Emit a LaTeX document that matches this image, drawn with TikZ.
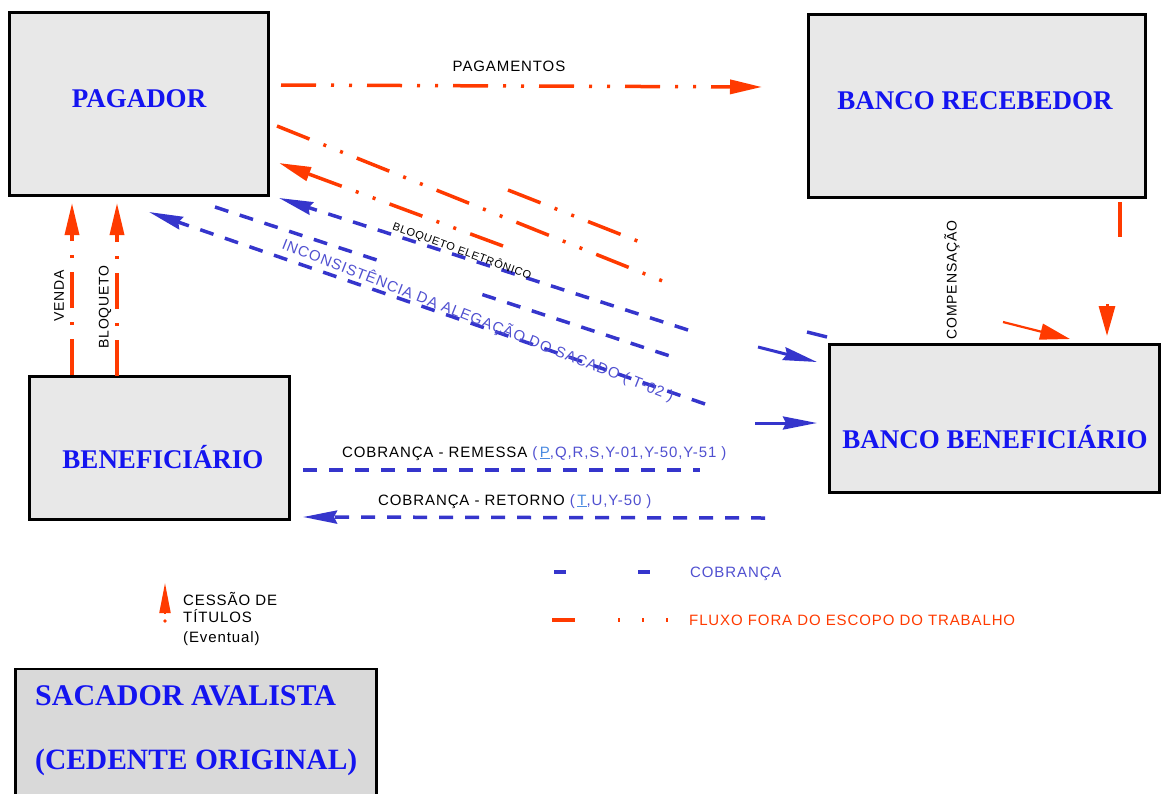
\documentclass[tikz,border=0pt]{standalone}
\usepackage{fontspec}
\setmainfont{Liberation Serif}
\newfontfamily\lsans[LetterSpace=6]{Liberation Sans}
\usetikzlibrary{arrows.meta,calc}
\definecolor{boxfill}{HTML}{E8E8E8}
\definecolor{sacfill}{HTML}{D9D9D9}
\definecolor{titleblue}{HTML}{1414F0}
\definecolor{lineblue}{HTML}{3535CC}
\definecolor{textblue}{HTML}{5050D0}
\definecolor{ulblue}{HTML}{4A8AE0}
\definecolor{flowred}{HTML}{FF3A00}
\tikzset{
  box/.style={draw=black, line width=3pt, fill=boxfill, inner sep=0pt},
  title/.style={text=titleblue, font=\fontsize{27}{30}\selectfont\bfseries, inner sep=0pt},
  small/.style={font=\lsans\fontsize{15}{17}\selectfont, inner sep=0pt},
  tiny/.style={font=\lsans\fontsize{14}{16}\selectfont, inner sep=0pt},
  redflow/.style={draw=flowred, line width=3.5pt, dash pattern=on 35pt off 15pt on 3pt off 15pt on 3pt off 15pt},
  redvert/.style={draw=flowred, line width=3.5pt, dash pattern=on 36pt off 14pt on 3pt off 14pt},
  bluflow/.style={draw=lineblue, line width=3.5pt, dash pattern=on 14pt off 12pt},
  redtip/.style={-{Triangle[length=32pt,width=14pt]}},
  blutip/.style={-{Stealth[length=34pt,width=13pt,inset=3pt]}},
}
\begin{document}
\begin{tikzpicture}[x=1pt,y=-1pt]
\useasboundingbox (0,0) rectangle (1162,793);

% boxes
\node[box, minimum width=259pt, minimum height=183pt] (pag) at (139,104) {};
\node[box, minimum width=337pt, minimum height=183pt] (rec) at (977,106) {};
\node[box, minimum width=330pt, minimum height=148pt] (bben) at (994.5,418.5) {};
\node[box, minimum width=260pt, minimum height=143pt] (ben) at (159.5,448) {};
\node[box, line width=2.5pt, fill=sacfill, minimum width=361pt, minimum height=150pt] (sac) at (196,744) {};

% box titles
\node[title, anchor=base] (tpag) at (139,107) {PAGADOR};
\node[title, anchor=base] (trec) at (975,109) {BANCO RECEBEDOR};
\node[title, anchor=base] (tben) at (163,468) {BENEFICIÁRIO};
\node[title, anchor=base] (tbben) at (995,448) {BANCO BENEFICIÁRIO};
\node[title, font=\fontsize{30}{32}\selectfont\bfseries, anchor=base west] (tsac1) at (35,705) {SACADOR AVALISTA};
\node[title, font=\fontsize{29.5}{32}\selectfont\bfseries, anchor=base west] (tsac2) at (35,769) {(CEDENTE ORIGINAL)};

% coordinates of free ends
\coordinate (pgA) at (281,85);  \coordinate (pgB) at (762,87);
\coordinate (rA1) at (277,126); \coordinate (rA2) at (665,282);
\coordinate (rB1) at (503,246); \coordinate (rB2) at (279,163);
\coordinate (rC1) at (508,190); \coordinate (rC2) at (640,242);
\coordinate (vA) at (72,203);   \coordinate (vB) at (117,203);
\coordinate (rr1) at (1120,202); \coordinate (rr2) at (1120,237);
\coordinate (rr3) at (1107,304); \coordinate (rr4) at (1107,336);
\coordinate (cp1) at (1003,322); \coordinate (cp2) at (1070,339);
\coordinate (ba1) at (688,330); \coordinate (ba2) at (279,198);
\coordinate (ba3) at (758,347); \coordinate (ba4) at (817,362);
\coordinate (bd1) at (807,332); \coordinate (bd2) at (827,337);
\coordinate (bb1) at (215,207); \coordinate (bb2) at (676,358);
\coordinate (bc1) at (705,404); \coordinate (bc2) at (149,212);
\coordinate (bc3) at (755,423); \coordinate (bc4) at (817,423);
\coordinate (rm1) at (303,470); \coordinate (rm2) at (700,470);
\coordinate (rt1) at (765,518); \coordinate (rt2) at (303,517);

% red flows
\draw[redflow, redtip] (pgA) -- (pgB);
\draw[redflow] (rA1) -- (rA2);
\draw[redflow, redtip] (rB1) -- (rB2);
\draw[redflow] (rC1) -- (rC2);
\draw[redvert, redtip] (ben.north -| vA) -- (vA);
\draw[redvert, redtip] ([yshift=-1pt]ben.north -| vB) -- (vB);
\draw[draw=flowred, line width=3.5pt] (rr1) -- (rr2);
\draw[draw=flowred, line width=3pt, -{Triangle[length=30pt,width=16pt]}] (rr3) -- (rr4);
\draw[draw=flowred, line width=2.2pt, -{Triangle[length=30pt,width=16pt]}] (cp1) -- (cp2);

% blue flows
\draw[bluflow, blutip] (ba1) -- (ba2);
\draw[draw=lineblue, line width=3pt, blutip] (ba3) -- (ba4);
\draw[draw=lineblue, line width=3.5pt] (bd1) -- (bd2);
\draw[bluflow] (bb1) -- ($(bb1)!0.36!(bb2)$);
\draw[bluflow] ($(bb1)!0.58!(bb2)$) -- (bb2);
\draw[bluflow, blutip] (bc1) -- (bc2);
\draw[draw=lineblue, line width=3pt, blutip] (bc3) -- (bc4);
\draw[bluflow] (rm1) -- (rm2);
\draw[bluflow, blutip] (rt1) -- (rt2);

% labels
\node[small, anchor=base] (lpag) at (509,71) {PAGAMENTOS};
\node[rotate=-20, inner sep=0pt, font=\lsans\fontsize{11}{12}\selectfont] (lblq) at (462,251) {BLOQUETO ELETRÔNICO};
\node[small, rotate=-21.4, text=textblue] (linc) at (478,320) {INCONSISTÊNCIA DA ALEGAÇÃO DO SACADO ( T-02 )};
\node[small, anchor=base west] (lrem) at (342,457) {COBRANÇA - REMESSA {\color{textblue}(\,}{\color{ulblue}\underline{P}}{\color{textblue},Q,R,S,Y-01,Y-50,Y-51 )}};
\node[small, anchor=base west] (lret) at (378,505) {COBRANÇA - RETORNO {\color{textblue}(\,}{\color{ulblue}\underline{T}}{\color{textblue},U,Y-50 )}};
\node[tiny, rotate=90] (lven) at (59,296) {VENDA};
\node[tiny, rotate=90] (lblo) at (105,307) {BLOQUETO};
\node[tiny, rotate=90] (lcom) at (952,280) {COMPENSAÇÃO};

% legend
\coordinate (lg1) at (554,572); \coordinate (lg2) at (650,572);
\draw[draw=lineblue, line width=4pt, dash pattern=on 12pt off 72pt] (lg1) -- (lg2);
\node[small, anchor=base west, text=textblue] (lcob) at (690,577) {COBRANÇA};
\coordinate (lr1) at (552,620); \coordinate (lr2) at (669,620);
\draw[draw=flowred, line width=4pt, dash pattern=on 23pt off 43pt on 2pt off 22pt on 2pt off 22pt on 2pt] (lr1) -- (lr2);
\node[small, anchor=base west, text=flowred] (lflx) at (689,625) {FLUXO FORA DO ESCOPO DO TRABALHO};

\coordinate (cs1) at (165,613); \coordinate (cs2) at (165,583);
\draw[draw=flowred, line width=2pt, -{Triangle[length=30pt,width=11pt]}] (cs1) -- (cs2);
\fill[flowred] (165,621) circle (1.8pt);
\node[small, anchor=base west] (lces1) at (183,605) {CESSÃO DE};
\node[small, anchor=base west] (lces2) at (183,622) {TÍTULOS};
\node[small, anchor=base west] (lces3) at (183,642) {(Eventual)};
\end{tikzpicture}
\end{document}
